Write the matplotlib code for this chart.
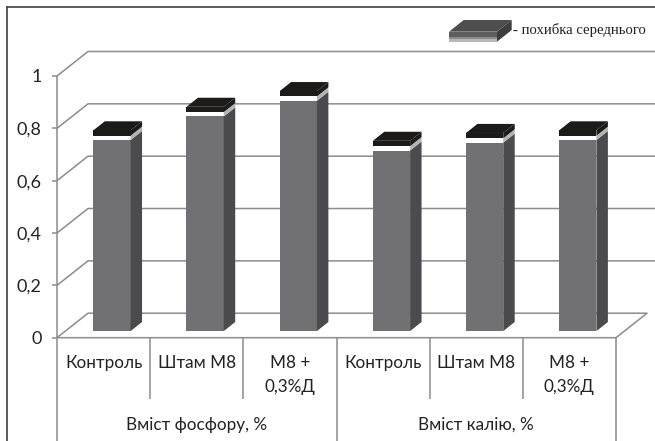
import matplotlib
matplotlib.use("Agg")
import matplotlib.pyplot as plt
from matplotlib.patches import Polygon
from matplotlib.lines import Line2D


groups = ["Вміст фосфору, %", "Вміст калію, %"]
treatments = ["Контроль", "Штам М8", "М8 +\n0,3%Д"]
means = [0.73, 0.82, 0.88, 0.69, 0.72, 0.73]
errors = [0.037, 0.037, 0.037, 0.037, 0.037, 0.037]
yticks = [0, 0.2, 0.4, 0.6, 0.8, 1.0]
ytick_labels = ["0", "0,2", "0,4", "0,6", "0,8", "1"]
legend_label = "- похибка середнього"

W, H = 655, 441
plt.rcParams['font.family'] = ['Lato', 'Noto Sans', 'DejaVu Sans']

GRID = "#8c8c8c"
FRONT = "#717174"
SIDE = "#4b4b4e"
CAP = "#1d1a1a"
CAP_SIDE = "#b4b4b4"
TEXT = "#222222"

# wall depth of the pseudo-3d box, in data units (x: category, y: value)
DX, DY = 31 / 93.17, 24.5 / 261.7
# bars stand between these two depth fractions
F0, F1 = 0.27, 0.64
BW = 0.40


def px(x, y):
    # pixel position (from top-left) -> figure fraction
    return (x / W, 1 - y / H)


fig = plt.figure(figsize=(W / 100, H / 100), dpi=100)
fig.patch.set_facecolor("white")
ax = fig.add_axes([57 / W, 1 - 337.7 / H, 559 / W, 261.7 / H])
ax.set_xlim(0, 6)
ax.set_ylim(0, 1)
ax.patch.set_alpha(0)
for s in ax.spines.values():
    s.set_visible(False)
ax.set_xticks([])
ax.set_yticks(yticks)
ax.set_yticklabels(ytick_labels)
ax.tick_params(axis="y", length=3.6, width=1.1, color=GRID, pad=7.5,
               labelsize=13, labelcolor=TEXT)

# back wall, side wall and floor
line_kw = dict(color=GRID, lw=1.1, clip_on=False, zorder=1, solid_capstyle="butt")
for t in yticks[1:]:
    ax.plot([0, DX, 6.6], [t, t + DY, t + DY], **line_kw)
ax.plot([0, DX, 6 + DX, 6, 0], [0, DY, DY, 0, 0], **line_kw)

# front axis and category dividers below the floor
ax.plot([0, 0], [1, -0.42], **line_kw)
for k in range(1, 6):
    bottom = -0.42 if k == 3 else -0.234
    ax.plot([k, k], [0, bottom], **line_kw)
ax.plot([6, 6], [0, -0.42], **line_kw)

# bars: front face, side face, then the error cap on top
ox, oy = (F1 - F0) * DX, (F1 - F0) * DY
centers = [i + 0.5 + F0 * DX for i in range(len(means))]
base = F0 * DY
white_part = [e * 0.45 for e in errors]
black_part = [e - w for e, w in zip(errors, white_part)]
tops = [m + base for m in means]

ax.bar(centers, means, width=BW, bottom=base, color=FRONT, zorder=3)
ax.bar(centers, white_part, width=BW, bottom=tops, color="white", zorder=3)
ax.bar(centers, black_part, width=BW,
       bottom=[t + w for t, w in zip(tops, white_part)], color=CAP, zorder=3)

for c, m, w, e in zip(centers, means, white_part, errors):
    x0, x1 = c - BW / 2, c + BW / 2
    top = base + m
    mid = top + w
    cap_top = top + e
    ax.add_patch(Polygon([(x1, base), (x1 + ox, base + oy), (x1 + ox, top + oy), (x1, top)],
                         closed=True, facecolor=SIDE, edgecolor="none", zorder=3))
    ax.add_patch(Polygon([(x1, top), (x1 + ox, top + oy), (x1 + ox, mid + oy), (x1, mid)],
                         closed=True, facecolor=CAP_SIDE, edgecolor="none", zorder=3))
    ax.add_patch(Polygon([(x1, mid), (x1 + ox, mid + oy), (x1 + ox, cap_top + oy), (x1, cap_top)],
                         closed=True, facecolor=CAP, edgecolor="none", zorder=3))
    ax.add_patch(Polygon([(x0, cap_top), (x1, cap_top), (x1 + ox, cap_top + oy), (x0 + ox, cap_top + oy)],
                         closed=True, facecolor=CAP, edgecolor="none", zorder=3))

# category labels
row_y = [-0.0967, -0.188]
for i in range(6):
    lines = treatments[i % 3].split("\n")
    for r, txt in enumerate(lines):
        ax.text(i + 0.5, row_y[r], txt, ha="center", va="center",
                fontsize=12.3, color=TEXT, clip_on=False)
for g, name in enumerate(groups):
    ax.text(3 * g + 1.5, -0.333, name, ha="center", va="center",
            fontsize=12.3, color=TEXT, clip_on=False)

# legend symbol: small box with striped front
tf = fig.transFigure
fig.add_artist(Polygon([px(449, 31.7), px(497, 31.7), px(511.7, 20), px(463.7, 20)],
                       closed=True, facecolor="#4d4d4d", edgecolor="none", transform=tf))
fig.add_artist(Polygon([px(497, 31.7), px(511.7, 20), px(511.7, 30), px(497, 41.7)],
                       closed=True, facecolor="#3d3d3d", edgecolor="none", transform=tf))
for y0, y1, col in [(31.7, 36.5, "#5e5e5e"), (36.5, 39, "#8c8c8c"), (39, 41.7, "#b8b8b8")]:
    fig.add_artist(Polygon([px(449, y0), px(497, y0), px(497, y1), px(449, y1)],
                           closed=True, facecolor=col, edgecolor="none", transform=tf))
fig.text(*px(513, 30), legend_label, ha="left", va="center", fontsize=10.6,
         family="Liberation Serif", color=TEXT)

# outer frame (left and top edges)
fig.add_artist(Line2D([6.7 / W, 6.7 / W], [0, 1 - 6.7 / H], color="#4d4d4d", lw=1.3))
fig.add_artist(Line2D([6.7 / W, 1], [1 - 6.7 / H, 1 - 6.7 / H], color="#4d4d4d", lw=1.3))

fig.savefig("out.png", dpi=100, facecolor="white")
